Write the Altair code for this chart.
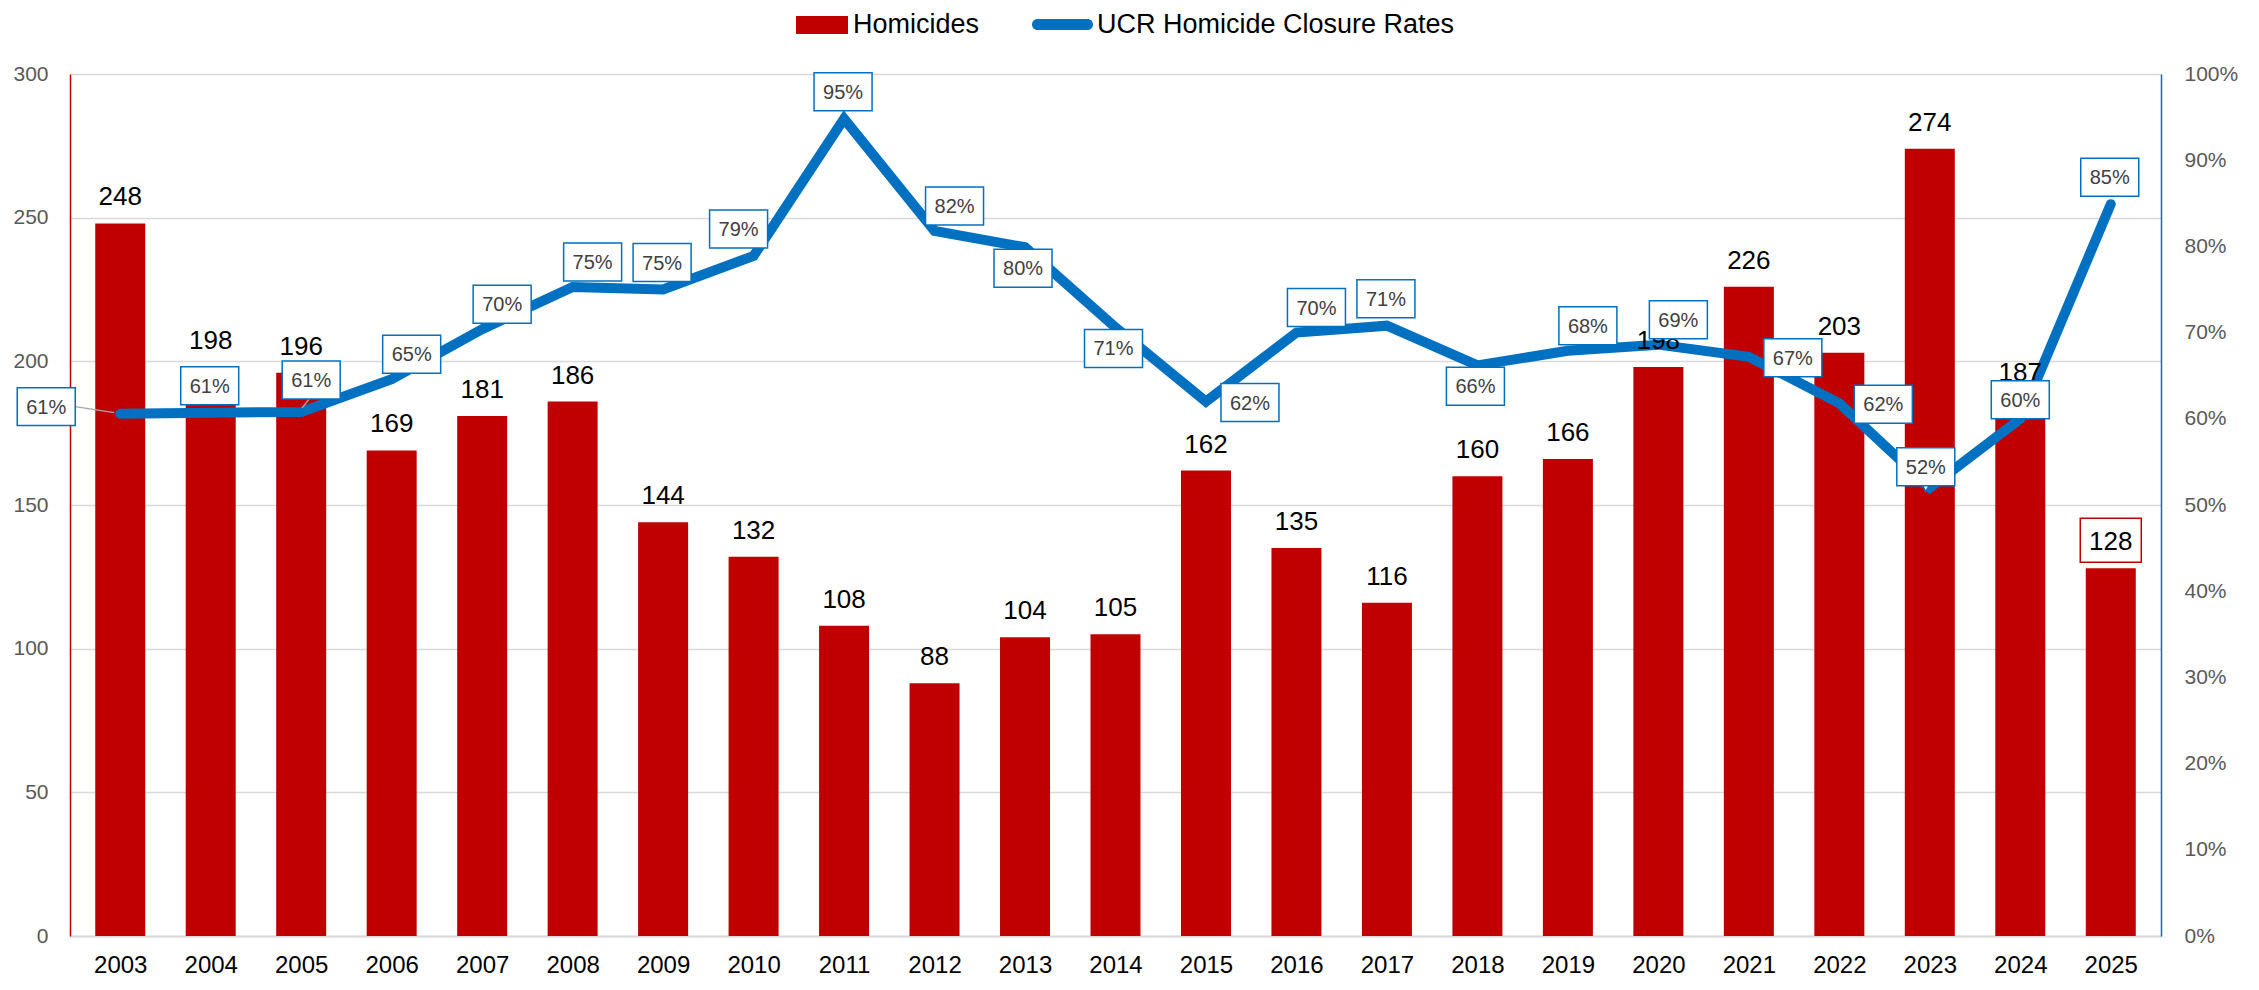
import altair as alt
import pandas as pd

# ---------------- data ----------------
years = [2003, 2004, 2005, 2006, 2007, 2008, 2009, 2010, 2011, 2012, 2013, 2014,
         2015, 2016, 2017, 2018, 2019, 2020, 2021, 2022, 2023, 2024, 2025]
homicides = [248, 198, 196, 169, 181, 186, 144, 132, 108, 88, 104, 105,
             162, 135, 116, 160, 166, 198, 226, 203, 274, 187, 128]
closure_rates = [0.606, 0.607, 0.608, 0.646, 0.704, 0.753, 0.750, 0.789, 0.948, 0.818,
                 0.799, 0.706, 0.620, 0.700, 0.708, 0.662, 0.679, 0.686, 0.672, 0.618,
                 0.520, 0.600, 0.849]
# where each closure-rate label sits relative to its point
label_placement = ["left", "above", "above_lead", "above_right", "above_right", "above_right",
                   "above", "above_left", "above", "above_right", "below", "below", "right",
                   "above_right", "above", "below", "above_right", "above_right", "right",
                   "right", "callout", "above_low", "above"]
leader_years = [2003, 2005]
boxed_bar_label_years = [2025]
left_ticks = [0, 50, 100, 150, 200, 250, 300]
right_ticks = [0, 0.1, 0.2, 0.3, 0.4, 0.5, 0.6, 0.7, 0.8, 0.9, 1.0]
series_bar = "Homicides"
series_line = "UCR Homicide Closure Rates"

df = pd.DataFrame({"year": years, "homicides": homicides,
                   "closure": closure_rates, "placement": label_placement})

# ---------------- styles ----------------
FONT = "Liberation Sans"
RED = "#C00000"
BLUE = "#0070C0"
GRID = "#D9D9D9"
TICK_GRAY = "#595959"
LABEL_GRAY = "#404040"

OFFSETS = {"left": (-74, -7), "above": (-1, -27), "above_low": (0, -19),
           "above_lead": (10, -32), "above_right": (20, -25), "above_left": (-15, -27),
           "below": (-2, 21), "right": (44, 1), "callout": (-4, -21)}
LEADERS = {"left": ((-45, -7), (-6, -1)), "above_lead": ((8, -13), (1, -4))}

BOX_PATH = "M-1,-0.655L1,-0.655L1,0.655L-1,0.655Z"
RED_BOX_PATH = "M-1,-0.72L1,-0.72L1,0.72L-1,0.72Z"
SWATCH_PATH = "M-1,-0.35L1,-0.35L1,0.35L-1,0.35Z"
CAPSULE_PATH = ("M-0.82,-0.18L0.82,-0.18A0.18,0.18,0,0,1,0.82,0.18"
                "L-0.82,0.18A0.18,0.18,0,0,1,-0.82,-0.18Z")

base = alt.Chart(df)

x_enc = alt.X("year:Q",
              scale=alt.Scale(domain=[2002.5, 2025.5], nice=False, zero=False),
              axis=alt.Axis(values=years, format="d", grid=False, ticks=False,
                            domainColor=GRID, domainWidth=2, labelFontSize=24,
                            labelFont=FONT, labelColor="black", labelPadding=36,
                            labelBaseline="alphabetic", labelFlush=False,
                            labelOverlap=False, title=None))

y_left = alt.Y("homicides:Q",
               scale=alt.Scale(domain=[0, 300], nice=False),
               axis=alt.Axis(values=left_ticks, grid=True, gridColor=GRID, gridWidth=1.5,
                             ticks=False, domainColor=RED, domainWidth=1.5,
                             labelFontSize=21, labelFont=FONT, labelColor=TICK_GRAY,
                             labelPadding=22, title=None))
y_left_hidden = alt.Y("homicides:Q", scale=alt.Scale(domain=[0, 300], nice=False), axis=None)

y_right = alt.Y("closure:Q",
                scale=alt.Scale(domain=[0, 1], nice=False),
                axis=alt.Axis(values=right_ticks, format=".0%", orient="right", grid=False,
                              ticks=False, domainColor=BLUE, domainWidth=1.5,
                              labelFontSize=21, labelFont=FONT, labelColor=TICK_GRAY,
                              labelPadding=23, title=None))
y_right_hidden = alt.Y("closure:Q", scale=alt.Scale(domain=[0, 1], nice=False), axis=None)

# ---- group 1: bars ----
bars = base.transform_calculate(series=f"'{series_bar}'").mark_bar(size=50).encode(
    x=x_enc, y=y_left,
    fill=alt.Fill("series:N", scale=alt.Scale(domain=[series_bar], range=[RED]),
                  legend=alt.Legend(orient="none", legendX=726, legendY=-75,
                                    direction="horizontal", title=None,
                                    labelFontSize=27, labelFont=FONT, labelColor="black",
                                    labelLimit=0,
                                    symbolType=SWATCH_PATH, symbolSize=2704,
                                    symbolStrokeWidth=0, labelOffset=5, padding=0)))

# ---- group 2: line ----
line = base.transform_calculate(series=f"'{series_line}'").mark_line(
    strokeWidth=10, strokeCap="round", strokeJoin="miter").encode(
    x=x_enc, y=y_right,
    stroke=alt.Stroke("series:N", scale=alt.Scale(domain=[series_line], range=[BLUE]),
                      legend=alt.Legend(orient="none", legendX=962, legendY=-80,
                                        direction="horizontal", title=None,
                                        labelFontSize=27, labelFont=FONT,
                                        labelColor="black", labelLimit=0,
                                        symbolType=CAPSULE_PATH,
                                        symbolSize=3721, symbolFillColor=BLUE,
                                        symbolStrokeWidth=0, labelOffset=4, padding=0)))

# ---- group 3: bar value labels ----
boxed = base.transform_filter(alt.FieldOneOfPredicate(field="year", oneOf=boxed_bar_label_years))
bar_label_box = boxed.mark_point(shape=RED_BOX_PATH, size=3721, filled=True, fill="white",
                                 stroke=RED, strokeWidth=1.5, opacity=1, yOffset=-28).encode(
    x=x_enc, y=y_left_hidden)
bar_labels = base.mark_text(fontSize=26, font=FONT, color="black", baseline="alphabetic",
                            align="center", dy=-18).encode(
    x=x_enc, y=y_left_hidden, text=alt.Text("homicides:Q"))
group3 = alt.layer(bar_label_box, bar_labels)

# ---- group 4: closure-rate labels ----
g4_layers = []
for name, ((sx, sy), (ex, ey)) in LEADERS.items():
    g4_layers.append(
        base.transform_filter(alt.datum.placement == name)
        .transform_filter(alt.FieldOneOfPredicate(field="year", oneOf=leader_years))
        .mark_rule(color="#A6A6A6", strokeWidth=1.5, xOffset=sx, yOffset=sy,
                   x2Offset=ex, y2Offset=ey)
        .encode(x=x_enc, y=y_right_hidden, x2=alt.X2("year:Q"), y2=alt.Y2("closure:Q")))

# pointer of the callout label
g4_layers.append(
    base.transform_filter(alt.datum.placement == "callout")
    .mark_point(shape="triangle-down", size=70, filled=True, fill="white", stroke=BLUE,
                strokeWidth=1.5, opacity=1, xOffset=OFFSETS["callout"][0],
                yOffset=OFFSETS["callout"][1] + 21)
    .encode(x=x_enc, y=y_right_hidden))

for name, (dx, dy) in OFFSETS.items():
    sub = base.transform_filter(alt.datum.placement == name)
    g4_layers.append(
        sub.mark_point(shape=BOX_PATH, size=3364, filled=True, fill="white", stroke=BLUE,
                       strokeWidth=1.5, opacity=1, xOffset=dx, yOffset=dy)
        .encode(x=x_enc, y=y_right_hidden))
    g4_layers.append(
        sub.mark_text(fontSize=20, font=FONT, color=LABEL_GRAY, baseline="middle",
                      align="center", dx=dx, dy=dy + 1)
        .encode(x=x_enc, y=y_right_hidden, text=alt.Text("closure:Q", format=".0%")))
group4 = alt.layer(*g4_layers)

chart = alt.layer(bars, line, group3, group4).resolve_scale(y="independent").properties(
    width=2091, height=862,
    padding={"left": 62, "top": 66, "right": 80, "bottom": 46},
    autosize=alt.AutoSizeParams(type="none"),
).configure_view(stroke=None)

chart.save("out.html", embed_options={"renderer": "svg", "actions": False})
